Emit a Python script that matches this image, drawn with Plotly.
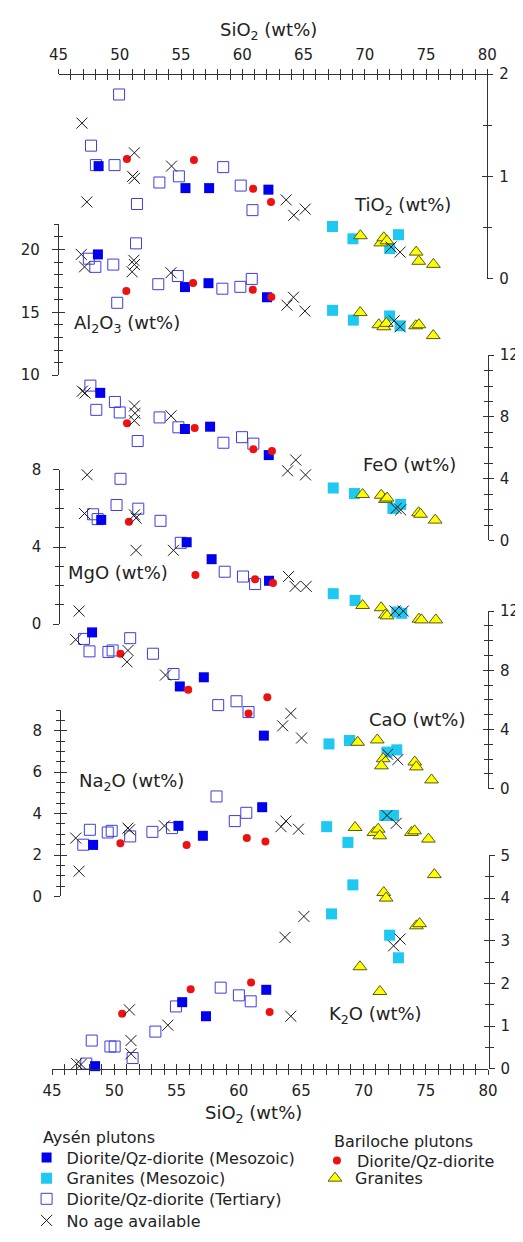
import plotly.graph_objects as go

# ---------------- data (SiO2 wt%, oxide wt%) ----------------
OXIDES = ["TiO2", "Al2O3", "FeO", "MgO", "CaO", "Na2O", "K2O"]

# Aysén plutons - Diorite/Qz-diorite (Mesozoic)
MESO_DIO = {
    "TiO2":  ([48.27, 55.36, 57.29, 62.13], [1.10, 0.885, 0.885, 0.87]),
    "Al2O3": ([48.32, 55.40, 57.31, 62.07], [19.61, 17.01, 17.32, 16.20]),
    "FeO":   ([48.58, 55.45, 57.49, 62.25], [9.56, 7.22, 7.37, 5.53]),
    "MgO":   ([48.71, 55.63, 57.65, 62.30], [5.41, 4.25, 3.37, 2.25]),
    "CaO":   ([48.04, 55.13, 57.07, 61.92], [10.56, 6.91, 7.53, 3.59]),
    "Na2O":  ([48.17, 55.05, 57.02, 61.80], [2.49, 3.41, 2.93, 4.31]),
    "K2O":   ([48.46, 55.45, 57.36, 62.20], [0.06, 1.56, 1.23, 1.85]),
}
# Aysén plutons - Granites (Mesozoic)
MESO_GRA = {
    "TiO2":  ([67.36, 69.03, 72.03, 72.75], [0.51, 0.39, 0.295, 0.43]),
    "Al2O3": ([67.40, 69.09, 72.04, 72.89], [15.16, 14.38, 14.71, 13.93]),
    "FeO":   ([67.48, 69.20, 72.32, 72.95], [3.40, 3.04, 2.08, 2.34]),
    "MgO":   ([67.50, 69.27, 72.65, 73.05], [1.58, 1.23, 0.63, 0.56]),
    "CaO":   ([67.18, 68.84, 71.87, 72.66], [3.03, 3.26, 2.48, 2.63]),
    "Na2O":  ([67.00, 68.71, 71.67, 72.38], [3.37, 2.61, 3.91, 3.91]),
    "K2O":   ([69.15, 67.44, 72.10, 72.81], [4.31, 3.63, 3.13, 2.60]),
}
# Aysén plutons - Diorite/Qz-diorite (Tertiary)
TERT_DIO = {
    "TiO2":  ([49.94, 47.65, 48.05, 49.57, 53.23, 54.82, 58.44, 59.87, 60.83, 51.40],
              [1.80, 1.30, 1.11, 1.11, 0.94, 1.00, 1.09, 0.91, 0.67, 0.73]),
    "Al2O3": ([47.58, 48.11, 49.57, 51.42, 49.89, 53.23, 54.82, 58.44, 59.90, 60.83],
              [19.27, 18.62, 18.80, 20.49, 15.76, 17.24, 17.89, 16.88, 17.03, 17.66]),
    "FeO":   ([47.78, 48.26, 49.77, 50.16, 51.62, 53.39, 54.92, 58.57, 60.08, 61.00],
              [10.03, 8.46, 8.97, 8.29, 6.44, 7.97, 7.33, 6.33, 6.69, 6.27]),
    "MgO":   ([50.27, 49.95, 48.05, 48.42, 51.71, 53.51, 55.15, 58.71, 60.19, 61.17],
              [7.54, 6.18, 5.70, 5.45, 5.99, 5.36, 4.22, 2.72, 2.47, 2.08]),
    "CaO":   ([47.39, 51.12, 47.83, 49.36, 49.70, 52.96, 54.62, 58.23, 59.71, 60.68],
              [10.12, 10.17, 9.28, 9.24, 9.34, 9.12, 7.75, 5.65, 5.91, 5.18]),
    "Na2O":  ([47.38, 47.91, 49.35, 49.67, 51.16, 52.95, 54.53, 58.12, 59.59, 60.52],
              [2.50, 3.22, 3.09, 3.17, 2.90, 3.12, 3.30, 4.83, 3.64, 4.04]),
    "K2O":   ([58.54, 60.00, 60.95, 54.95, 53.30, 48.19, 49.69, 50.03, 51.47, 47.75],
              [1.90, 1.72, 1.58, 1.46, 0.87, 0.66, 0.52, 0.52, 0.25, 0.12]),
}
# Aysén plutons - No age available
NO_AGE = {
    "TiO2":  ([46.91, 47.31, 51.19, 51.05, 51.19, 54.22, 63.58, 64.20, 65.13, 72.14, 72.88],
              [1.52, 0.75, 1.23, 1.00, 0.98, 1.10, 0.77, 0.62, 0.68, 0.31, 0.26]),
    "Al2O3": ([46.97, 47.23, 51.24, 51.29, 51.10, 54.26, 63.69, 64.22, 65.15, 72.41, 72.89],
              [19.61, 18.62, 19.14, 18.80, 18.23, 18.15, 15.57, 16.20, 15.10, 14.32, 13.85]),
    "FeO":   ([47.13, 47.35, 51.35, 51.40, 51.35, 54.32, 63.78, 64.44, 65.23, 72.58, 72.95],
              [9.67, 9.55, 8.71, 8.24, 7.76, 8.07, 4.51, 5.21, 4.25, 2.08, 1.98]),
    "MgO":   ([47.57, 47.36, 51.40, 51.53, 51.53, 54.56, 63.88, 64.41, 65.31, 46.92, 72.51, 73.17],
              [7.75, 5.74, 5.67, 5.50, 3.83, 3.83, 2.47, 1.96, 1.96, 0.68, 0.68, 0.68]),
    "CaO":   ([46.72, 50.94, 50.86, 53.97, 64.10, 63.44, 64.97, 71.92, 72.74],
              [10.07, 9.34, 8.57, 7.68, 5.09, 4.25, 3.43, 2.33, 1.97]),
    "Na2O":  ([46.77, 47.04, 50.98, 51.11, 53.92, 63.32, 63.72, 64.72, 71.86, 72.60],
              [2.82, 1.22, 3.30, 3.22, 3.41, 3.37, 3.64, 3.25, 3.91, 3.53]),
    "K2O":   ([51.21, 54.30, 51.34, 51.34, 46.98, 47.33, 64.17, 65.22, 63.70, 72.94, 72.42],
              [1.38, 1.02, 0.66, 0.35, 0.12, 0.10, 1.23, 3.57, 3.08, 3.04, 2.88]),
}
# Bariloche plutons - Diorite/Qz-diorite
BAR_DIO = {
    "TiO2":  ([50.58, 56.05, 60.88, 62.34], [1.17, 1.16, 0.88, 0.75]),
    "Al2O3": ([50.63, 56.06, 60.91, 62.42], [16.70, 17.34, 16.80, 16.23]),
    "FeO":   ([50.75, 56.24, 61.00, 62.51], [7.60, 7.28, 5.91, 5.80]),
    "MgO":   ([50.95, 56.34, 61.17, 62.62], [5.31, 2.55, 2.33, 2.13]),
    "CaO":   ([50.33, 55.81, 60.68, 62.20], [9.12, 6.68, 5.09, 6.18]),
    "Na2O":  ([50.37, 55.71, 60.56, 62.06], [2.57, 2.49, 2.82, 2.66]),
    "K2O":   ([50.63, 56.13, 60.98, 62.47], [1.29, 1.86, 2.02, 1.33]),
}
# Bariloche plutons - Granites
BAR_GRA = {
    "TiO2":  ([69.64, 71.30, 71.55, 71.80, 74.19, 74.40, 75.60], [0.42, 0.35, 0.40, 0.37, 0.26, 0.17, 0.14]),
    "Al2O3": ([69.65, 71.16, 71.56, 71.77, 74.16, 74.42, 75.59], [14.98, 14.01, 13.85, 14.12, 13.93, 14.01, 13.15]),
    "FeO":   ([69.86, 71.37, 71.71, 71.85, 74.40, 74.56, 75.75], [2.98, 2.93, 2.66, 2.75, 1.80, 1.70, 1.32]),
    "MgO":   ([69.88, 71.38, 71.72, 71.86, 74.44, 74.65, 75.81], [0.97, 0.85, 0.48, 0.43, 0.26, 0.22, 0.22]),
    "CaO":   ([69.50, 71.08, 71.56, 71.42, 74.11, 74.24, 75.47], [3.14, 3.30, 2.03, 1.55, 1.81, 1.48, 0.60]),
    "Na2O":  ([69.29, 70.81, 71.15, 71.28, 73.83, 74.09, 75.20], [3.33, 3.09, 3.25, 2.93, 3.09, 3.17, 2.77]),
    "K2O":   ([75.69, 71.63, 71.82, 74.25, 74.51, 69.72, 71.32], [4.55, 4.13, 4.00, 3.35, 3.40, 2.39, 1.81]),
}

SIO2_TICKS = [45, 50, 55, 60, 65, 70, 75, 80]

# ---------------- layout geometry (pixels) ----------------
W, H = 523, 1242
ML, MR, MT, MB = 44, 32, 66, 165
PW = W - ML - MR
PH = H - MT - MB
FONT = "DejaVu Sans"
TXT = "#222222"
AX = "#333333"


def fx(px):
    return (px - ML) / PW


def fy(py):
    return (H - MB - py) / PH


# per panel: y range, pixel of y-range bottom/top, pixel of SiO2 45/80, axis side, axis x pixel,
# major/minor tick step, label text and label centre
PANELS = {
    "TiO2":  dict(yr=[0, 2], ypx=(274, 66), xpx=(50.7, 489.3), side="right", axpx=489.3,
                  dt=1, mn=0.5, lab="TiO<sub>2</sub> (wt%)", lpos=(403, 200), xid="x2"),
    "Al2O3": dict(yr=[10, 22], ypx=(372, 218.8), xpx=(49.2, 489.5), side="left", axpx=50.0,
                  dt=5, mn=1, lab="Al<sub>2</sub>O<sub>3</sub> (wt%)", lpos=(121, 320), xid="x3"),
    "FeO":   dict(yr=[0, 12], ypx=(540, 351.7), xpx=(48.2, 489.55), side="right", axpx=489.6,
                  dt=4, mn=1, lab="FeO (wt%)", lpos=(410, 463), xid="x4"),
    "MgO":   dict(yr=[0, 8], ypx=(625, 468.3), xpx=(47.5, 489.55), side="left", axpx=51.5,
                  dt=4, mn=1, lab="MgO (wt%)", lpos=(111, 573), xid="x5"),
    "CaO":   dict(yr=[0, 12], ypx=(792.3, 611.7), xpx=(46.5, 489.6), side="right", axpx=490.0,
                  dt=4, mn=1, lab="CaO (wt%)", lpos=(417, 722), xid="x6"),
    "Na2O":  dict(yr=[0, 9], ypx=(901.7, 712.3), xpx=(45.8, 489.95), side="left", axpx=52.2,
                  dt=2, mn=0.5, lab="Na<sub>2</sub>O (wt%)", lpos=(125, 785), xid="x7"),
    "K2O":   dict(yr=[0, 5], ypx=(1076.7, 860), xpx=(44.0, 490.0), side="right", axpx=490.6,
                  dt=1, mn=0.5, lab="K<sub>2</sub>O (wt%)", lpos=(375, 1022), xid="x"),
}

GROUPS = [
    # name, data, marker, legend id, legend text position (px)
    ("Diorite/Qz-diorite (Tertiary)", TERT_DIO,
     dict(symbol="square-open", size=11, color="#3d3de0", line=dict(width=1, color="#3d3de0")),
     "legend3", (58, 1209)),
    ("Granites (Mesozoic)", MESO_GRA,
     dict(symbol="square", size=11, color="#1ec8f0", line=dict(width=0)),
     "legend2", (58, 1188)),
    ("Diorite/Qz-diorite (Mesozoic)", MESO_DIO,
     dict(symbol="square", size=10, color="#0000ee", line=dict(width=0)),
     "legend", (58, 1167)),
    ("Diorite/Qz-diorite", BAR_DIO,
     dict(symbol="circle", size=8, color="#ee1111", line=dict(width=0)),
     "legend5", (355, 1170)),
    ("Granites", BAR_GRA,
     dict(symbol="triangle-up", size=12, color="#ffff00", line=dict(width=1, color="#5a5a10")),
     "legend6", (353, 1188)),
    ("No age available", NO_AGE,
     dict(symbol="x-thin", size=11, color="#1a1a1a", line=dict(width=1, color="#1a1a1a")),
     "legend4", (58, 1231)),
]

fig = go.Figure()
layout = {}
tickfont = dict(family=FONT, size=15, color=TXT)


def xax(dom_px, pos, side, inside=False, overlay=None):
    d = dict(domain=[fx(dom_px[0]), fx(dom_px[1])], range=[45, 80], anchor="free", position=pos,
             side=side, showgrid=False, zeroline=False, showline=not inside, linecolor=AX, linewidth=1,
             ticks="inside" if inside else "outside", ticklen=5, tickwidth=1, tickcolor=AX,
             tickmode="array", tickvals=SIO2_TICKS, ticktext=[str(v) for v in SIO2_TICKS],
             minor=dict(dtick=1, tick0=45, ticks="inside" if inside else "outside", ticklen=5,
                        tickwidth=1, tickcolor=AX, showgrid=False),
             showticklabels=not inside, tickfont=tickfont, ticklabelstandoff=3)
    if overlay:
        d["overlaying"] = overlay
    return d


layout["xaxis"] = xax((44, 490), 0, "bottom")
layout["xaxis2"] = xax((50.7, 489.3), 1, "top")
layout["xaxis10"] = xax((44, 490), 0, "bottom", inside=True, overlay="x")
layout["xaxis11"] = xax((50.7, 489.3), 1, "top", inside=True, overlay="x2")

for i, ox in enumerate(OXIDES):
    p = PANELS[ox]
    yid = "y" if i == 0 else f"y{i + 1}"
    ykey = "yaxis" if i == 0 else f"yaxis{i + 1}"
    dup_n = 20 + i
    xid = p["xid"]
    if xid not in ("x", "x2"):
        layout["xaxis" + xid[1:]] = dict(domain=[fx(p["xpx"][0]), fx(p["xpx"][1])], range=[45, 80],
                                        anchor=yid, visible=False)
    dom = [fy(p["ypx"][0]), fy(p["ypx"][1])]
    for inside in (False, True):
        big = 6 if p["side"] == "left" else 5
        d = dict(domain=dom, range=p["yr"], anchor="free", position=fx(p["axpx"]), side=p["side"],
                 showgrid=False, zeroline=False, showline=not inside, linecolor=AX, linewidth=1,
                 ticks="inside" if inside else "outside", ticklen=big, tickwidth=1, tickcolor=AX,
                 tick0=0, dtick=p["dt"],
                 minor=dict(dtick=p["mn"], tick0=0, ticks="inside" if inside else "outside", ticklen=4,
                            tickwidth=1, tickcolor=AX, showgrid=False),
                 showticklabels=not inside, tickfont=tickfont,
                 ticklabelstandoff=9 if p["side"] == "left" else 3)
        if inside:
            d["overlaying"] = yid
            layout[f"yaxis{dup_n}"] = d
            fig.add_trace(go.Scatter(x=[], y=[], xaxis=xid, yaxis=f"y{dup_n}", showlegend=False,
                                     hoverinfo="skip"))
        else:
            layout[ykey] = d

    for gi, (name, data, marker, leg, _) in enumerate(GROUPS):
        xs, ys = data[ox]
        fig.add_trace(go.Scatter(
            x=xs, y=ys, mode="markers", name=name, marker=marker, xaxis=xid, yaxis=yid,
            cliponaxis=False, showlegend=(i == 0), legend=leg, legendgroup=name))

# empty traces so the overlay x axes are drawn
fig.add_trace(go.Scatter(x=[], y=[], xaxis="x10", yaxis="y7", showlegend=False, hoverinfo="skip"))
fig.add_trace(go.Scatter(x=[], y=[], xaxis="x11", yaxis="y", showlegend=False, hoverinfo="skip"))

# legends: one entry each, placed like the original key
legfont = dict(family=FONT, size=16, color=TXT)
for name, data, marker, leg, (tx, ty) in GROUPS:
    layout[leg] = dict(x=fx(tx - 40), y=fy(ty), xanchor="left", yanchor="middle",
                       bgcolor="rgba(0,0,0,0)", borderwidth=0, font=legfont,
                       itemclick=False, itemdoubleclick=False)

annotations = []
labfont = dict(family=FONT, size=18, color=TXT)
for ox in OXIDES:
    p = PANELS[ox]
    annotations.append(dict(text=p["lab"], x=fx(p["lpos"][0]), y=fy(p["lpos"][1]), xref="paper",
                            yref="paper", showarrow=False, xanchor="center", yanchor="middle",
                            font=labfont))
for txt, (px, py) in [("SiO<sub>2</sub> (wt%)", (265, 22)), ("SiO<sub>2</sub> (wt%)", (250, 1123))]:
    annotations.append(dict(text=txt, x=fx(px), y=fy(py), xref="paper", yref="paper", showarrow=False,
                            xanchor="center", yanchor="middle", font=labfont))
for txt, (px, py) in [("Aysén plutons", (33, 1147)), ("Bariloche plutons", (330, 1151))]:
    annotations.append(dict(text=txt, x=fx(px), y=fy(py), xref="paper", yref="paper", showarrow=False,
                            xanchor="left", yanchor="middle", font=legfont))

fig.update_layout(
    width=W, height=H, margin=dict(l=ML, r=MR, t=MT, b=MB, pad=0),
    paper_bgcolor="white", plot_bgcolor="rgba(0,0,0,0)",
    font=dict(family=FONT, color=TXT), annotations=annotations, hovermode=False,
    **layout,
)

fig.write_html("out.html")
